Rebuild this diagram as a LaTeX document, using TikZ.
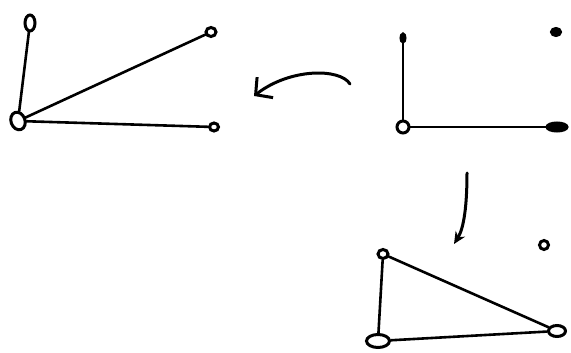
\documentclass[tikz,border=0pt]{standalone}
\usetikzlibrary{shapes.geometric, arrows.meta}

\begin{document}
\begin{tikzpicture}[
    x=1pt, y=-1pt,
    vertex/.style 2 args={ellipse, draw, line width=3pt, minimum width=#1, minimum height=#2, inner sep=0pt},
    blob/.style 2 args={vertex={#1}{#2}, fill=black},
    edge/.style={line width=2.6pt, line cap=round},
    move/.style={line width=3pt, line cap=round}
]
\useasboundingbox (0,0) rectangle (571,353);

% Left graph
\node[vertex={10}{16}] (a1) at (30,23) {};
\node[vertex={14}{18}, rotate=20] (a2) at (18,121) {};
\node[vertex={10}{9}] (a3) at (211,32) {};
\node[vertex={9}{8}] (a4) at (214,127) {};

\draw[edge] (a1) -- (a2);
\draw[edge] (a2) -- (a3);
\draw[edge] (a2) -- (a4);

% Top right graph
\node[blob={4}{8}] (b1) at (403,38) {};
\node[blob={9}{7}] (b2) at (556,32) {};
\node[vertex={12}{12}] (b3) at (403,127) {};
\node[blob={20}{8}] (b4) at (557,127) {};

\draw[edge] (b1) -- (b3);
\draw[edge] (b3) -- (b4);

% Bottom graph
\node[vertex={10}{9}] (c1) at (383,254) {};
\node[vertex={9}{9}] (c2) at (544,245) {};
\node[vertex={23}{13}] (c3) at (378,341) {};
\node[vertex={17}{11}] (c4) at (557,331) {};

\draw[edge] (c1) -- (c3);
\draw[edge] (c1) -- (c4);
\draw[edge] (c3) -- (c4);

% Arrows between the graphs
\coordinate (s1) at (350,84);
\coordinate (t1) at (254,96);
\draw[move, -{Straight Barb[length=12pt, width=26pt]}] (s1) .. controls (340,68) and (290,68) .. (t1);

\coordinate (s2) at (467,173);
\coordinate (t2) at (454,244);
\draw[move, -{Stealth[length=12pt, width=11pt]}] (s2) .. controls (467,205) and (464,228) .. (t2);
\end{tikzpicture}
\end{document}
